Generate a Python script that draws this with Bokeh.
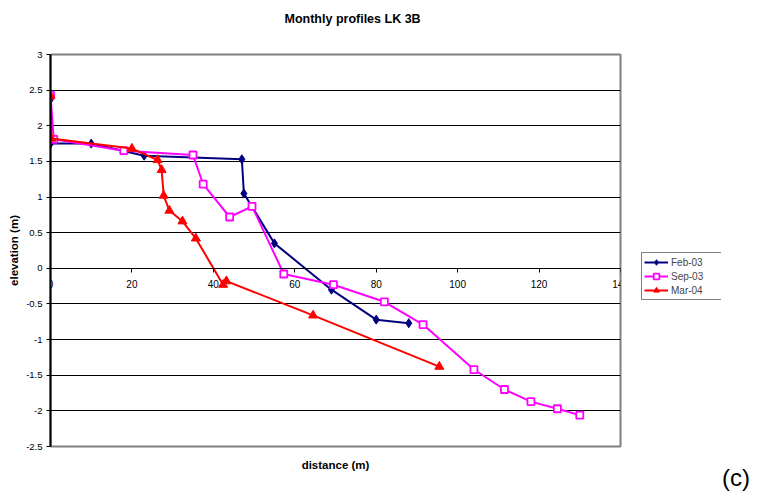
from bokeh.plotting import figure
from bokeh.layouts import row
from bokeh.models import Range1d, FixedTicker, Legend, LegendItem, LinearAxis, Title
from bokeh.embed import file_html
from bokeh.resources import INLINE

# ---- data ----
feb_x = [0, 0, 10, 23, 47, 47.5, 55, 69, 80, 88]
feb_y = [2.37, 1.75, 1.75, 1.58, 1.53, 1.05, 0.35, -0.30, -0.72, -0.77]

sep_x = [0, 0.8, 18, 35, 37.5, 44, 49.5, 57.3, 69.5, 82, 91.5, 104, 111.5, 118, 124.5, 130]
sep_y = [2.43, 1.81, 1.65, 1.59, 1.18, 0.72, 0.87, -0.08, -0.23, -0.47, -0.79, -1.42, -1.70, -1.87, -1.97, -2.06]

mar_x = [0, 0.2, 20, 26.3, 27.3, 27.8, 29.2, 32.4, 35.7, 42.4, 43.2, 64.5, 95.5]
mar_y = [2.42, 1.82, 1.68, 1.52, 1.38, 1.02, 0.81, 0.66, 0.42, -0.23, -0.18, -0.66, -1.38]

series_names = ["Feb-03", "Sep-03", "Mar-04"]
x_ticks = [0, 20, 40, 60, 80, 100, 120, 140]
y_ticks = [-2.5, -2, -1.5, -1, -0.5, 0, 0.5, 1, 1.5, 2, 2.5, 3]
y_tick_labels = ["-2.5", "-2", "-1.5", "-1", "-0.5", "0", "0.5", "1", "1.5", "2", "2.5", "3"]
grid_ticks = [-2, -1.5, -1, -0.5, 0, 0.5, 1, 1.5, 2, 2.5]

FONT = "Liberation Sans"
colors = ["#000080", "#FF00FF", "#FF0000"]


def draw_series(fig):
    rs = []
    rs.append((fig.line(feb_x, feb_y, line_color=colors[0], line_width=2),
               fig.scatter(feb_x, feb_y, marker="diamond", size=9, fill_color=colors[0], line_color=colors[0])))
    rs.append((fig.line(sep_x, sep_y, line_color=colors[1], line_width=2),
               fig.scatter(sep_x, sep_y, marker="square", size=7, fill_color="white", line_color=colors[1], line_width=1.8)))
    rs.append((fig.line(mar_x, mar_y, line_color=colors[2], line_width=2),
               fig.scatter(mar_x, mar_y, marker="triangle", size=9, fill_color=colors[2], line_color=colors[2])))
    return rs


def bare_figure(width):
    f = figure(width=width, height=497, output_backend="svg", toolbar_location=None,
               x_range=Range1d(1000, 1001), y_range=Range1d(1000, 1001),
               x_axis_location=None, y_axis_location=None,
               min_border_left=0, min_border_right=0, min_border_top=0, min_border_bottom=0)
    f.title.visible = False
    f.xgrid.visible = False
    f.ygrid.visible = False
    f.outline_line_color = None
    f.background_fill_color = "white"
    f.border_fill_color = "white"
    return f


# ================= main chart =================
p = figure(width=630, height=497, output_backend="svg", toolbar_location=None,
           x_range=Range1d(0, 140), y_range=Range1d(-2.5, 3),
           min_border_left=50, min_border_right=10, min_border_top=54, min_border_bottom=51)
p.title.text = ""
p.title.visible = False
p.background_fill_color = "white"
p.border_fill_color = "white"
p.outline_line_color = "#808080"
p.outline_line_width = 2

# grid
p.xgrid.visible = False
p.ygrid.ticker = FixedTicker(ticks=grid_ticks)
p.ygrid.grid_line_color = "black"
p.ygrid.grid_line_width = 1

# y axis
ya = p.yaxis[0]
ya.ticker = FixedTicker(ticks=y_ticks)
ya.major_label_overrides = {t: l for t, l in zip(y_ticks, y_tick_labels)}
ya.axis_line_color = "black"
ya.axis_line_width = 2
ya.major_tick_line_color = "black"
ya.major_tick_out = 4
ya.major_tick_in = 0
ya.minor_tick_line_color = None
ya.major_label_text_font = FONT
ya.major_label_text_font_size = "9.5px"
ya.major_label_text_color = "black"
ya.major_label_standoff = 4
ya.axis_label = "elevation (m)"
ya.axis_label_text_font = FONT
ya.axis_label_text_font_size = "11.5px"
ya.axis_label_text_font_style = "bold"
ya.axis_label_text_color = "black"
ya.axis_label_standoff = 3

# bottom axis only carries the axis title
xa = p.xaxis[0]
xa.ticker = FixedTicker(ticks=[])
xa.axis_line_color = None
xa.major_tick_line_color = None
xa.major_tick_out = 0
xa.minor_tick_line_color = None
xa.axis_label = "distance (m)"
xa.axis_label_text_font = FONT
xa.axis_label_text_font_size = "11.5px"
xa.axis_label_text_font_style = "bold"
xa.axis_label_text_color = "black"
xa.axis_label_standoff = 12

# x axis drawn at y = 0 (ticks/labels below the line)
xa0 = LinearAxis(fixed_location=0, ticker=FixedTicker(ticks=x_ticks))
xa0.axis_line_color = "black"
xa0.axis_line_width = 1
xa0.major_tick_line_color = "black"
xa0.major_tick_out = 0
xa0.major_tick_in = 4
xa0.minor_tick_line_color = None
xa0.major_label_text_font = FONT
xa0.major_label_text_font_size = "10px"
xa0.major_label_text_color = "black"
xa0.major_label_standoff = -20
p.add_layout(xa0, "above")

# invisible spacer between frame and title (one white tick, no label drawn)
spacer = LinearAxis(ticker=FixedTicker(ticks=x_ticks[:1]))
spacer.axis_line_color = None
spacer.major_tick_line_color = "white"
spacer.minor_tick_line_color = None
spacer.major_tick_out = 29
spacer.major_tick_in = 0
spacer.major_label_standoff = 0
spacer.major_label_text_font_size = "1px"
spacer.major_label_text_color = None
p.add_layout(spacer, "above")

title = Title(text="Monthly profiles LK 3B", align="left", offset=234, standoff=0,
              vertical_align="bottom", text_font=FONT, text_font_size="12.5px",
              text_font_style="bold", text_color="black")
p.add_layout(title, "above")

draw_series(p)

# ================= legend panel =================
# (same series drawn out of view so the legend can show their symbols)
p2 = bare_figure(91)
keys = draw_series(p2)

legend = Legend(items=[LegendItem(label=n, renderers=list(r)) for n, r in zip(series_names, keys)],
                location=(11, 146))
legend.border_line_color = "black"
legend.border_line_width = 1
legend.background_fill_color = "white"
legend.background_fill_alpha = 1
legend.label_text_font = FONT
legend.label_text_font_size = "10px"
legend.label_height = 14
legend.label_width = 48
legend.glyph_height = 14
legend.glyph_width = 24
legend.label_standoff = 3
legend.padding = 2
legend.spacing = 0
legend.margin = 0
p2.add_layout(legend)

# ================= panel tag "(c)" =================
p3 = bare_figure(29)
tag_axis = LinearAxis(ticker=FixedTicker(ticks=[]))
tag_axis.axis_line_color = None
tag_axis.major_tick_line_color = None
tag_axis.minor_tick_line_color = None
tag_axis.major_tick_out = 0
tag_axis.major_tick_in = 0
tag_axis.axis_label = "(c)"
tag_axis.axis_label_text_font = FONT
tag_axis.axis_label_text_font_size = "24px"
tag_axis.axis_label_text_font_style = "normal"
tag_axis.axis_label_text_color = "black"
tag_axis.axis_label_standoff = 17
p3.add_layout(tag_axis, "below")

layout = row(p, p2, p3)
open("out.html", "w").write(file_html(layout, INLINE))
